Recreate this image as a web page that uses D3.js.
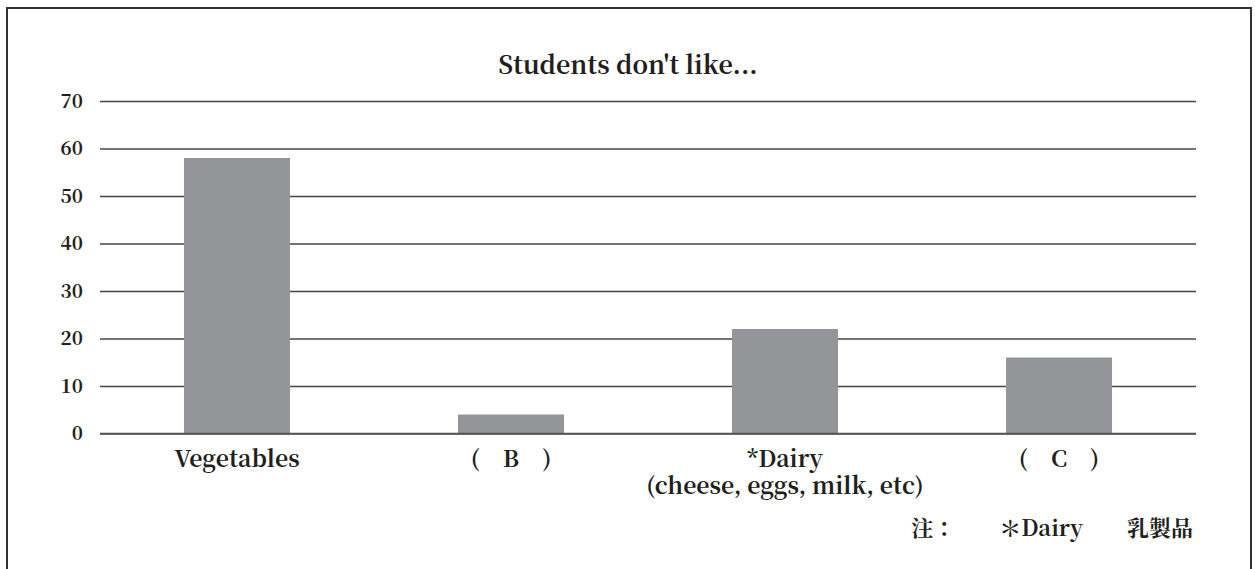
<!DOCTYPE html>
<html><head><meta charset="utf-8">
<script src="https://cdn.jsdelivr.net/npm/d3@7"></script>
<style>body{margin:0;background:#fff}svg{display:block}</style>
</head><body>
<svg id="chart" width="1255" height="569"></svg>
<script>
const categories = ["Vegetables", "(　B　)", "*Dairy", "(　C　)"];
const subLabels = ["", "", "(cheese, eggs, milk, etc)", ""];
const values = [58, 4, 22, 16];
const yTicks = [0, 10, 20, 30, 40, 50, 60, 70];
const title = "Students don't like...";
const noteText = "注：　　＊Dairy　　乳製品";

(function () {
const svg = d3.select("#chart");
const mLeft = 100, mRight = 1196, mTop = 101, mBottom = 433.5;
const serif = "Noto Serif CJK JP, Noto Serif, DejaVu Serif, serif";
const ink = "#231f20";

svg.append("rect").attr("x", 7).attr("y", 8).attr("width", 1244).attr("height", 580)
  .attr("fill", "none").attr("stroke", "#333").attr("stroke-width", 2);

const x = d3.scaleBand().domain(categories).range([mLeft, mRight]).paddingInner(0.613).paddingOuter(0.3065);
const y = d3.scaleLinear().domain([0, 70]).range([mBottom, mTop]);

svg.append("text").attr("x", 628).attr("y", 74).attr("text-anchor", "middle")
  .style("font-family", serif).style("font-weight", "bold").style("font-size", "25px").attr("fill", ink).text(title);

const yAxis = d3.axisLeft(y).tickValues(yTicks).tickSize(-(mRight - mLeft)).tickPadding(17);
const g = svg.append("g").attr("transform", `translate(${mLeft},0)`).call(yAxis);
g.select(".domain").remove();
g.selectAll(".tick line").attr("stroke", "#444").attr("stroke-width", 1.3);
g.selectAll(".tick text").style("font-family", serif).style("font-weight", "bold").style("font-size", "19px").attr("fill", ink);

svg.append("g").selectAll("rect").data(values).join("rect")
  .attr("x", (d, i) => x(categories[i])).attr("width", x.bandwidth())
  .attr("y", d => y(d)).attr("height", d => y(0) - y(d)).attr("fill", "#939598");

svg.append("line").attr("x1", mLeft).attr("x2", mRight).attr("y1", y(0)).attr("y2", y(0))
  .attr("stroke", "#555").attr("stroke-width", 1.5);

const lab = svg.append("g").attr("text-anchor", "middle");
categories.forEach((c, i) => {
  const cx = x(c) + x.bandwidth() / 2;
  const t = lab.append("text").attr("x", cx).attr("y", 467).style("font-family", serif).style("font-weight", "bold").style("font-size", "23px").attr("fill", ink);
  t.append("tspan").attr("x", cx).attr("y", 467).text(c);
  if (subLabels[i]) t.append("tspan").attr("x", cx).attr("y", 494).text(subLabels[i]);
});

svg.append("text").attr("x", 1193).attr("y", 536).attr("text-anchor", "end")
  .style("font-family", serif).style("font-weight", "bold").style("font-size", "22px").attr("fill", ink).text(noteText);
})();
</script>
</body></html>
